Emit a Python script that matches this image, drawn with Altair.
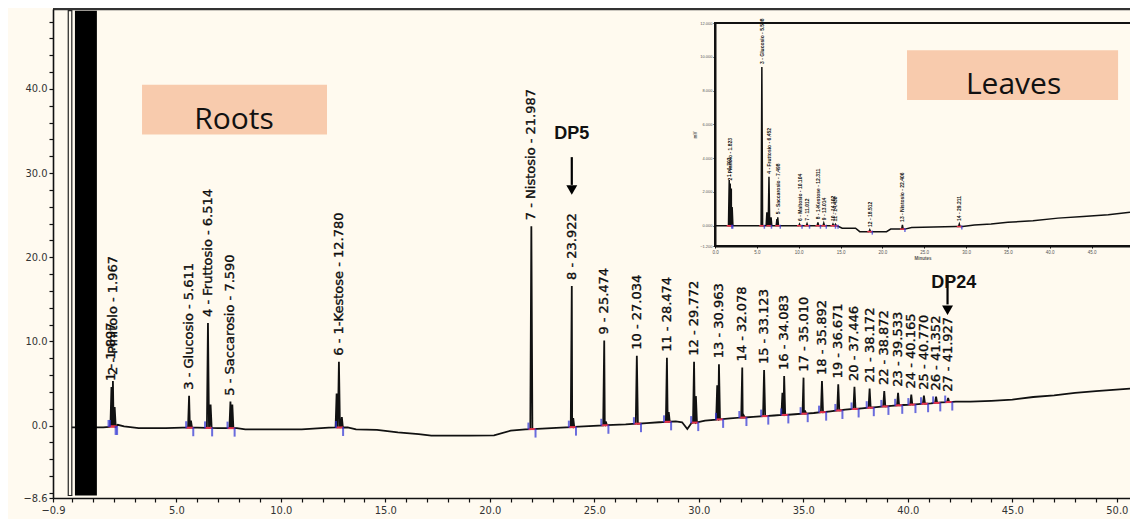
import altair as alt
import pandas as pd

# ---------------- Roots chromatogram (main panel) ----------------
peak_no = list(range(1, 28))
peak_name = ["", "Pinitolo", "Glucosio", "Fruttosio", "Saccarosio", "1-Kestose", "Nistosio"] + [""] * 20
peak_rt = [1.897, 1.967, 5.611, 6.514, 7.590, 12.780, 21.987, 23.922, 25.474, 27.034,
           28.474, 29.772, 30.963, 32.078, 33.123, 34.083, 35.010, 35.892, 36.671, 37.446,
           38.172, 38.872, 39.533, 40.165, 40.770, 41.352, 41.927]
peak_top = [4.6, 5.3, 3.55, 12.2, 2.85, 7.6, 23.7, 16.6, 10.1, 8.3,
            8.05, 7.6, 7.3, 6.9, 6.6, 5.9, 5.7, 5.3, 4.9, 4.6,
            4.4, 4.1, 3.9, 3.7, 3.55, 3.45, 3.3]
peak_base = [-0.1, -0.1, -0.25, -0.27, -0.3, -0.22, -0.41, -0.18, 0.04, 0.23,
             0.45, 0.36, 0.74, 0.96, 1.13, 1.27, 1.42, 1.6, 1.8, 1.98,
             2.13, 2.28, 2.41, 2.5, 2.6, 2.7, 2.8]

# unlabelled shoulders
shoulder_rt = [2.05, 5.70, 6.64, 7.68, 12.67, 12.92, 23.99, 25.55, 28.56, 29.86, 30.88, 32.15, 34.00, 35.08]
shoulder_top = [2.2, 0.6, 2.5, 2.5, 3.8, 1.0, 0.9, 0.5, 1.6, 3.5, 4.8, 1.2, 3.9, 1.8]
shoulder_base = [-0.1, -0.25, -0.27, -0.3, -0.22, -0.22, -0.15, 0.06, 0.46, 0.38, 0.72, 0.97, 1.26, 1.43]

# baseline drift of the roots trace
drift_t = [0.0, 1.5, 1.8, 2.2, 2.5, 3.2, 4.5, 5.3, 6.0, 7.0,
           7.9, 8.3, 10.0, 11.0, 12.3, 13.2, 13.6, 14.6, 15.6, 16.6,
           17.2, 19.0, 20.2, 21.0, 21.7, 22.5, 23.4, 24.5, 25.9, 26.5,
           27.5, 28.1, 28.9, 29.2, 29.45, 29.65, 30.3, 31.5, 32.6, 33.6,
           34.6, 35.5, 36.3, 37.0, 37.8, 38.5, 39.2, 39.8, 40.5, 41.1,
           41.6, 42.3, 43.0, 44.0, 45.0, 46.0, 47.0, 48.0, 49.0, 50.63]
drift_y = [-0.2, -0.2, -0.15, 0.1, -0.1, -0.3, -0.3, -0.25, -0.25, -0.3,
           -0.3, -0.45, -0.45, -0.45, -0.25, -0.2, -0.45, -0.5, -0.8, -1.0,
           -1.2, -1.2, -1.15, -0.6, -0.45, -0.35, -0.25, -0.1, 0.1, 0.15,
           0.3, 0.4, 0.5, 0.4, -0.4, 0.3, 0.6, 0.85, 1.05, 1.2,
           1.35, 1.5, 1.7, 1.9, 2.05, 2.2, 2.35, 2.45, 2.55, 2.65,
           2.75, 2.85, 2.85, 2.95, 3.1, 3.4, 3.6, 3.9, 4.1, 4.4]

# solvent front (off-scale block) and its outline
front_x0 = [0.15]
front_x1 = [1.2]
front_outline_x0 = [-0.17]
front_outline_x1 = [0.0]
front_y0 = [-8.3]
front_y1 = [49.3]

# DP annotations
dp_text = ["DP5", "DP24"]
dp_text_x = [23.922, 42.2]
dp_text_y = [34.7, 17.0]
dp_arrow_x = [23.922, 41.9]
dp_arrow_y0 = [31.9, 17.8]
dp_arrow_y1 = [28.6, 14.4]
dp_head_y = [28.0, 13.7]

# sample boxes
box_name = ["Roots", "Leaves"]
box_x0 = [3.36, 39.96]
box_x1 = [12.21, 50.06]
box_y0 = [34.6, 38.7]
box_y1 = [40.5, 44.6]
box_text_x = [7.76, 45.06]
box_text_y = [35.3, 39.4]

# axis ticks
x_ticks = [-0.9] + list(range(0, 51))
x_labels = [-0.9, 5, 10, 15, 20, 25, 30, 35, 40, 45, 50]
y_ticks = [-8.6] + list(range(-8, 50, 2))
y_labels = [-8.6, 0, 10, 20, 30, 40]

# ---------------- Leaves chromatogram (inset) ----------------
leaf_rt = [1.70, 1.82, 1.95, 2.05, 5.60, 6.20, 6.45, 6.70, 7.40, 7.50,
           10.10, 11.00, 12.30, 13.00, 14.10, 14.40, 18.50, 22.40, 29.20]
leaf_top = [2.7, 2.5, 2.2, 1.1, 9.4, 0.8, 2.9, 0.5, 0.4, 0.5,
            0.1, 0.12, 0.2, 0.15, 0.1, 0.08, -0.25, 0.05, 0.1]
leaf_base = [0, 0, 0, 0, 0, 0, 0, 0, 0, 0,
             0, 0, 0, 0, 0, 0, -0.35, -0.2, -0.05]
leaf_label = ["1 - 1.702", "2 - Pinitolo - 1.823", "", "", "3 - Glucosio - 5.598", "",
              "4 - Fruttosio - 6.452", "", "", "5 - Saccarosio - 7.498",
              "6 - Maltosio - 10.104", "7 - 11.012", "8 - 1-Kestose - 12.311", "9 - 13.014",
              "10 - 14.102", "11 - 14.430", "12 - 18.512", "13 - Nistosio - 22.406", "14 - 29.211"]
leaf_drift_t = [0.0, 1.4, 2.3, 5.2, 7.9, 9.5, 14.6, 15.2, 16.8, 17.3, 18.2, 18.8, 20.5,
                21.0, 22.1, 22.7, 23.5, 28.8, 29.6, 31.0, 33.0, 35.0, 38.0, 41.0, 44.0, 47.0, 49.6]
leaf_drift_y = [0, 0, 0, 0, 0, 0, 0, -0.15, -0.15, -0.35, -0.35, -0.35, -0.35,
                -0.2, -0.2, -0.2, -0.1, -0.05, -0.05, 0.05, 0.1, 0.2, 0.3, 0.45, 0.55, 0.65, 0.8]
leaf_x_ticks = [0, 5, 10, 15, 20, 25, 30, 35, 40, 45]
leaf_y_ticks = [-1.2, 0, 2, 4, 6, 8, 10, 12]
leaf_frame_x = [0.0, 50.6]
leaf_frame_y = [-1.2, 12.0]

# ---------------- layout / style ----------------
W, H = 1077, 489
CREAM = "#fffaef"
PEACH = "#f8cbad"
BLUE = "#2b2fd6"
RED = "#e8344a"
AXFONT = "Liberation Sans Narrow, DejaVu Sans Condensed, Liberation Sans"


def build_trace(dt, dy, rts, tops, bases, hw):
    pts = list(zip(dt, dy))
    for rt, top, b in zip(rts, tops, bases):
        pts += [(rt - hw, b), (rt, top), (rt + hw, b)]
    pts.sort(key=lambda p: p[0])
    return pd.DataFrame({"t": [p[0] for p in pts], "v": [p[1] for p in pts], "i": list(range(len(pts)))})


main_df = build_trace(drift_t, drift_y, peak_rt + shoulder_rt, peak_top + shoulder_top,
                      peak_base + shoulder_base, 0.05)
peaks_df = pd.DataFrame({
    "rt": peak_rt, "top": peak_top, "base": peak_base,
    "label": [f"{n} - {nm} - {rt:.3f}" if nm else f"{n} - {rt:.3f}"
              for n, nm, rt in zip(peak_no, peak_name, peak_rt)],
})
peaks_df["s"] = peaks_df["rt"] - 0.14
peaks_df["e"] = peaks_df["rt"] + 0.2

xs = alt.Scale(domain=[-0.9, 50.63], nice=False, zero=False)
ys = alt.Scale(domain=[-8.6, 49.5], nice=False, zero=False)


def labexpr(vals):
    arr = ",".join(str(v) for v in vals)
    return f"indexof([{arr}], datum.value) >= 0 ? format(datum.value, '.1f') : ''"


x_axis = alt.Axis(orient="bottom", values=x_ticks, labelExpr=labexpr(x_labels), title=None, grid=False,
                  domainColor="#111", domainWidth=1.6, tickColor="#111", tickSize=4, tickWidth=1.2,
                  labelFont=AXFONT, labelFontSize=11, labelColor="#333", labelFlush=False,
                  labelOverlap=False, labelPadding=2, zindex=1)
y_axis = alt.Axis(orient="left", values=y_ticks, labelExpr=labexpr(y_labels), title=None, grid=False,
                  domainColor="#111", domainWidth=1.6, tickColor="#111", tickSize=4, tickWidth=1.2,
                  labelFont=AXFONT, labelFontSize=11, labelColor="#333", labelFlush=False,
                  labelOverlap=False, labelPadding=2, zindex=1)

trace_layer = alt.Chart(main_df).mark_line(color="#111", strokeWidth=1.8).encode(
    x=alt.X("t:Q", scale=xs, axis=x_axis),
    y=alt.Y("v:Q", scale=ys, axis=y_axis),
    order="i:Q",
)

front_df = pd.DataFrame({"x0": front_x0, "x1": front_x1, "y0": front_y0, "y1": front_y1})
front = alt.Chart(front_df).mark_rect(color="black").encode(
    x=alt.X("x0:Q", scale=xs, axis=None), x2="x1",
    y=alt.Y("y0:Q", scale=ys, axis=None), y2="y1")
outline_df = pd.DataFrame({"x0": front_outline_x0, "x1": front_outline_x1, "y0": front_y0, "y1": front_y1})
outline = alt.Chart(outline_df).mark_rect(filled=False, color="#222", strokeWidth=1.2).encode(
    x=alt.X("x0:Q", scale=xs, axis=None), x2="x1",
    y=alt.Y("y0:Q", scale=ys, axis=None), y2="y1")

top_border = alt.Chart(pd.DataFrame({"a": [0]})).mark_rule(color="#333", strokeWidth=2.5).encode(
    x=alt.value(0), x2=alt.value(W), y=alt.value(0))

red_base = alt.Chart(peaks_df).mark_rule(color=RED, strokeWidth=2).encode(
    x=alt.X("s:Q", scale=xs, axis=None), x2="e",
    y=alt.Y("base:Q", scale=ys, axis=None))
blue_start = alt.Chart(peaks_df).mark_tick(orient="vertical", color=BLUE, size=7, thickness=2, yOffset=-3).encode(
    x=alt.X("s:Q", scale=xs, axis=None), y=alt.Y("base:Q", scale=ys, axis=None))
blue_end = alt.Chart(peaks_df).mark_tick(orient="vertical", color=BLUE, size=9, thickness=2, yOffset=4).encode(
    x=alt.X("e:Q", scale=xs, axis=None), y=alt.Y("base:Q", scale=ys, axis=None))

peak_labels = alt.Chart(peaks_df).mark_text(angle=270, align="left", baseline="middle", dx=6,
                                            font="DejaVu Sans", fontSize=13, color="#0d0d0d",
                                            stroke="#0d0d0d", strokeWidth=0.35).encode(
    x=alt.X("rt:Q", scale=xs, axis=None), y=alt.Y("top:Q", scale=ys, axis=None), text="label:N")

dp_df = pd.DataFrame({"txt": dp_text, "tx": dp_text_x, "ty": dp_text_y, "ax": dp_arrow_x,
                      "ay0": dp_arrow_y0, "ay1": dp_arrow_y1, "hy": dp_head_y})
dp_rule = alt.Chart(dp_df).mark_rule(color="black", strokeWidth=2.2).encode(
    x=alt.X("ax:Q", scale=xs, axis=None), y=alt.Y("ay0:Q", scale=ys, axis=None), y2="ay1")
dp_head = alt.Chart(dp_df).mark_point(shape="triangle-down", filled=True, size=120, color="black", opacity=1).encode(
    x=alt.X("ax:Q", scale=xs, axis=None), y=alt.Y("hy:Q", scale=ys, axis=None))
dp_txt = alt.Chart(dp_df).mark_text(font="Liberation Sans", fontSize=18, fontWeight="bold", color="#111").encode(
    x=alt.X("tx:Q", scale=xs, axis=None), y=alt.Y("ty:Q", scale=ys, axis=None), text="txt:N")

box_df = pd.DataFrame({"name": box_name, "x0": box_x0, "x1": box_x1, "y0": box_y0, "y1": box_y1,
                       "tx": box_text_x, "ty": box_text_y})
roots_df = box_df[box_df["name"] == "Roots"]
leaves_df = box_df[box_df["name"] == "Leaves"]


def box_rect(df):
    return alt.Chart(df).mark_rect(color=PEACH).encode(
        x=alt.X("x0:Q", scale=xs, axis=None), x2="x1",
        y=alt.Y("y0:Q", scale=ys, axis=None), y2="y1")


def box_text(df):
    return alt.Chart(df).mark_text(font="Open Sans", fontSize=30, color="#111", baseline="alphabetic").encode(
        x=alt.X("tx:Q", scale=xs, axis=None), y=alt.Y("ty:Q", scale=ys, axis=None), text="name:N")


# ---------------- inset ----------------
ixs = alt.Scale(domain=[0, 49.6], range=[662, W], nice=False, zero=False)
iys = alt.Scale(domain=[-1.2, 12.0], range=[237, 14], nice=False, zero=False)

leaf_df = build_trace(leaf_drift_t, leaf_drift_y, leaf_rt, leaf_top, leaf_base, 0.09)
leaf_peaks = pd.DataFrame({"rt": leaf_rt, "top": leaf_top, "base": leaf_base, "label": leaf_label})
leaf_peaks["s"] = leaf_peaks["rt"] - 0.3
leaf_peaks["e"] = leaf_peaks["rt"] + 0.3
leaf_lab = leaf_peaks[leaf_peaks["label"] != ""]

frame_df = pd.DataFrame({"x0": [leaf_frame_x[0]], "x1": [leaf_frame_x[1]],
                         "y0": [leaf_frame_y[0]], "y1": [leaf_frame_y[1]]})
frame = alt.Chart(frame_df).mark_rect(fill=CREAM, stroke="#111", strokeWidth=2).encode(
    x=alt.X("x0:Q", scale=ixs, axis=None), x2="x1",
    y=alt.Y("y0:Q", scale=iys, axis=None), y2="y1")

ix_axis = alt.Axis(orient="bottom", offset=-(H - 237), values=leaf_x_ticks, format=".1f",
                   title="Minutes", titleFontSize=4.5, titlePadding=2, titleColor="#555",
                   grid=False, domainColor="#111", domainWidth=2, tickColor="#111", tickSize=2,
                   labelFontSize=4.5, labelColor="#555", labelFlush=False, labelPadding=1, zindex=1)
iy_axis = alt.Axis(orient="left", offset=-662, values=leaf_y_ticks, format=".3f",
                   title="mV", titleFontSize=4.5, titlePadding=2, titleColor="#555",
                   grid=False, domainColor="#111", domainWidth=2, tickColor="#111", tickSize=2,
                   labelFontSize=4, labelColor="#555", labelFlush=False, labelPadding=1, zindex=1)

leaf_trace = alt.Chart(leaf_df).mark_line(color="#111", strokeWidth=1.5).encode(
    x=alt.X("t:Q", scale=ixs, axis=ix_axis),
    y=alt.Y("v:Q", scale=iys, axis=iy_axis),
    order="i:Q")
leaf_red = alt.Chart(leaf_lab).mark_rule(color=RED, strokeWidth=1.5).encode(
    x=alt.X("s:Q", scale=ixs, axis=None), x2="e", y=alt.Y("base:Q", scale=iys, axis=None))
leaf_blue = alt.Chart(leaf_lab).mark_tick(orient="vertical", color=BLUE, size=4, thickness=1.5, yOffset=1).encode(
    x=alt.X("e:Q", scale=ixs, axis=None), y=alt.Y("base:Q", scale=iys, axis=None))
leaf_text = alt.Chart(leaf_lab).mark_text(angle=270, align="left", baseline="middle", dx=3,
                                          font="Liberation Sans", fontSize=5, fontWeight="bold",
                                          color="#111").encode(
    x=alt.X("rt:Q", scale=ixs, axis=None), y=alt.Y("top:Q", scale=iys, axis=None), text="label:N")

layers = [trace_layer, front, outline, top_border, red_base, blue_start, blue_end,
          peak_labels, dp_rule, dp_head, dp_txt, box_rect(roots_df), box_text(roots_df),
          frame, leaf_trace, leaf_red, leaf_blue, leaf_text,
          box_rect(leaves_df), box_text(leaves_df)]

chart = alt.layer(*layers).resolve_scale(
    x="independent", y="independent"
).properties(
    width=W, height=H,
    padding={"left": 45, "top": 1, "right": 0, "bottom": 21},
    autosize=alt.AutoSizeParams(type="none"),
    background="#fffaf0",
).configure_view(fill=CREAM, stroke=None)

chart.save("out.html", embed_options={"renderer": "svg", "actions": False})
